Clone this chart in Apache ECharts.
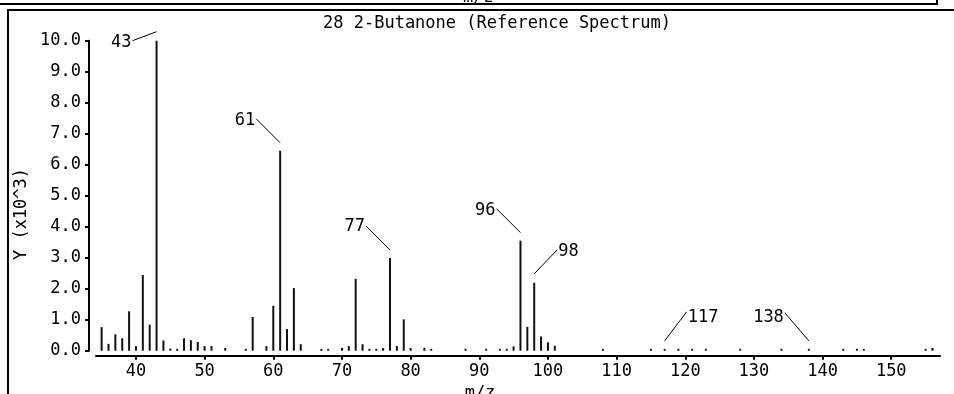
<!DOCTYPE html>
<html>
<head>
<meta charset="utf-8">
<style>
  html, body { margin: 0; padding: 0; background: #fff; }
  #chart { width: 954px; height: 394px; }
</style>
<script src="https://cdn.jsdelivr.net/npm/echarts@6/dist/echarts.min.js"></script>
</head>
<body>
<div id="chart"></div>
<script>
// ---------- data ----------
const titleText = '28 2-Butanone (Reference Spectrum)';
const xName = 'm/z';
const yName = 'Y (x10^3)';
const mz = [35, 36, 37, 38, 39, 40, 41, 42, 43, 44, 45, 46, 47, 48, 49, 50, 51, 53, 56, 57,
            59, 60, 61, 62, 63, 64, 67, 68, 70, 71, 72, 73, 74, 75, 76, 77, 78, 79, 80, 82,
            83, 88, 91, 93, 94, 95, 96, 97, 98, 99, 100, 101, 108, 115, 117, 119, 121, 123, 128, 134,
            138, 143, 145, 146, 155, 156];
const intensity = [0.76, 0.22, 0.53, 0.40, 1.27, 0.15, 2.44, 0.84, 10.0, 0.33, 0.07, 0.06, 0.40, 0.34, 0.28, 0.15, 0.15, 0.09, 0.06, 1.09,
                   0.15, 1.45, 6.45, 0.70, 2.02, 0.21, 0.06, 0.06, 0.09, 0.15, 2.32, 0.21, 0.06, 0.06, 0.09, 2.99, 0.15, 1.01, 0.09, 0.09,
                   0.06, 0.06, 0.06, 0.06, 0.06, 0.14, 3.55, 0.77, 2.19, 0.46, 0.27, 0.16, 0.06, 0.06, 0.06, 0.06, 0.06, 0.06, 0.06, 0.06,
                   0.06, 0.06, 0.06, 0.06, 0.06, 0.09];
const labeledPeaks = [43, 61, 77, 96, 98, 117, 138];
const xTickValues = [40, 50, 60, 70, 80, 90, 100, 110, 120, 130, 140, 150];
const yMin = 0, yMax = 10, yStep = 1;

// ---------- style / layout ----------
const FONT_FAMILY = '"DejaVu Sans Mono", monospace';
const FONT_SIZE = 17;
const INK = '#000';
// per-label leader-line layout (pixel offsets from the peak top)
const LABEL_LAYOUT = {
  43:  { sy: -9, ex: -24, ey: 9,   ty: 1.5, side: 'L' },
  61:  { sy: -8, ex: -24, ey: -24, ty: 2,   side: 'L' },
  77:  { sy: -8, ex: -24, ey: -24, ty: 1,   side: 'L' },
  96:  { sy: -8, ex: -24, ey: -24, ty: 2,   side: 'L' },
  98:  { sy: -9, ex: 23,  ey: -24, ty: 2,   side: 'R' },
  117: { sy: -8, ex: 22,  ey: -29, ty: 6,   side: 'R' },
  138: { sy: -8, ex: -24, ey: -28, ty: 5,   side: 'L' }
};

const barData = mz.map((m, i) => [m, intensity[i]]);
const labelData = labeledPeaks.map(m => [m, intensity[mz.indexOf(m)]]);

const chart = echarts.init(document.getElementById('chart'), null, { renderer: 'canvas' });

const textStyle = { fontFamily: FONT_FAMILY, fontSize: FONT_SIZE, color: INK };

chart.setOption({
  animation: false,
  backgroundColor: '#fff',
  textStyle: textStyle,
  grid: { left: 96, right: 14, top: 40.7, bottom: 43.3, containLabel: false },
  xAxis: {
    type: 'value',
    min: 34.18,
    max: 157.1,
    offset: 5,
    axisLine: { show: true, onZero: false, lineStyle: { color: INK, width: 2 } },
    axisTick: { show: true, length: 4, customValues: xTickValues, lineStyle: { color: INK, width: 2 } },
    axisLabel: { customValues: xTickValues, margin: 7, fontFamily: FONT_FAMILY, fontSize: FONT_SIZE, color: INK },
    splitLine: { show: false }
  },
  yAxis: {
    type: 'value',
    min: yMin,
    max: yMax,
    interval: yStep,
    offset: 7,
    axisLine: { show: true, lineStyle: { color: INK, width: 2 } },
    axisTick: { show: true, length: 4, lineStyle: { color: INK, width: 2 } },
    axisLabel: { margin: 8, fontFamily: FONT_FAMILY, fontSize: FONT_SIZE, color: INK,
                 formatter: v => v.toFixed(1) },
    splitLine: { show: false }
  },
  series: [
    {
      type: 'bar',
      data: barData,
      barWidth: 2,
      itemStyle: { color: '#111' },
      silent: true
    },
    {
      type: 'custom',
      data: labelData,
      clip: false,
      silent: true,
      renderItem: function (params, api) {
        const m = api.value(0);
        const p = api.coord([m, api.value(1)]);
        const L = LABEL_LAYOUT[m];
        const sx = p[0], sy = p[1] + L.sy;
        const ex = sx + L.ex, ey = sy + L.ey;
        return {
          type: 'group',
          children: [
            { type: 'line', shape: { x1: sx, y1: sy, x2: ex, y2: ey },
              style: { stroke: INK, lineWidth: 1 } },
            { type: 'text',
              style: { text: String(m), x: ex + (L.side === 'L' ? -1 : 1), y: ey + L.ty,
                       align: L.side === 'L' ? 'right' : 'left', verticalAlign: 'middle',
                       font: FONT_SIZE + 'px ' + FONT_FAMILY, fill: INK } }
          ]
        };
      }
    }
  ],
  graphic: [
    // frame of the previous panel (cut off at top)
    { type: 'text', left: 463, top: -11, style: { text: xName, font: FONT_SIZE + 'px ' + FONT_FAMILY, fill: INK } },
    { type: 'polyline', shape: { points: [[0, 4], [937, 4], [937, 0]] }, style: { stroke: INK, lineWidth: 2, fill: null } },
    // frame of this panel
    { type: 'polyline', shape: { points: [[954, 10], [8, 10], [8, 394]] }, style: { stroke: INK, lineWidth: 2, fill: null } },
    // title
    { type: 'text', x: 497, y: 24, style: { text: titleText, align: 'center', verticalAlign: 'middle',
        font: FONT_SIZE + 'px ' + FONT_FAMILY, fill: INK } },
    // y-axis name
    { type: 'text', x: 22, y: 214, rotation: Math.PI / 2, style: { text: yName, align: 'center', verticalAlign: 'middle',
        font: FONT_SIZE + 'px ' + FONT_FAMILY, fill: INK } },
    // x-axis name
    { type: 'text', x: 480, y: 394, style: { text: xName, align: 'center', verticalAlign: 'middle',
        font: FONT_SIZE + 'px ' + FONT_FAMILY, fill: INK } }
  ]
});
</script>
</body>
</html>
